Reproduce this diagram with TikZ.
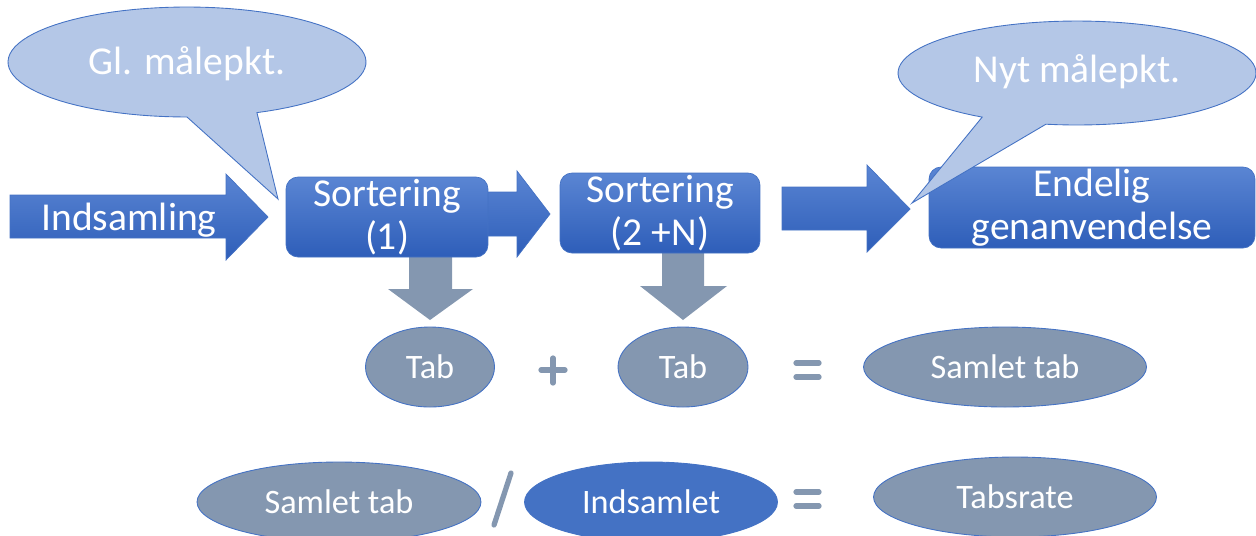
\documentclass[tikz,border=0pt]{standalone}
\usepackage{fontspec}
\setmainfont{Carlito}
\usetikzlibrary{shapes.geometric}
\definecolor{flowtop}{HTML}{5A85D3}
\definecolor{flowbot}{HTML}{2E5EB9}
\definecolor{flowedge}{HTML}{4472C4}
\definecolor{bubble}{HTML}{B4C7E7}
\definecolor{lossgrey}{HTML}{8497B0}
\tikzset{
  flowbox/.style={draw=flowedge, line width=0.4pt, top color=flowtop, bottom color=flowbot,
    rounded corners=0.24cm, text=white, align=center, inner sep=0pt,
    font=\fontsize{22.5}{24.5}\selectfont},
  flowarrow/.style={draw=flowedge, line width=0.4pt, top color=flowtop, bottom color=flowbot},
  lossarrow/.style={fill=lossgrey, draw=none},
  bubbleshape/.style={fill=bubble, draw=flowedge, line width=0.5pt},
  bigtext/.style={text=white, inner sep=0pt, font=\fontsize{22.5}{27}\selectfont},
  lossoval/.style={ellipse, fill=lossgrey, draw=flowedge, line width=0.5pt, text=white,
    inner sep=0pt, minimum height=1.6cm, font=\fontsize{19.5}{21}\selectfont},
  opsign/.style={draw=lossgrey, line width=3pt, line cap=round},
}
\begin{document}
\begin{tikzpicture}[x=0.02cm, y=-0.02cm]
  \useasboundingbox (0,0) rectangle (1256,535);
  % grey arrows down to the losses
  \fill[lossarrow] (409,250) -- (452,250) -- (452,289) -- (473,289) -- (430,320)
    -- (388,289) -- (409,289) -- cycle;
  \fill[lossarrow] (662,248) -- (704,248) -- (704,286) -- (727,286) -- (683,320)
    -- (640,286) -- (662,286) -- cycle;
  % flow arrows
  \draw[flowarrow] (10,195) -- (226,195) -- (226,174) -- (268,217) -- (226,260)
    -- (226,238) -- (10,238) -- cycle;
  \node[bigtext, anchor=base] (indsamling) at (129,230) {Indsamling};
  \draw[flowarrow] (480,192) -- (517,192) -- (517,171) -- (550,214) -- (517,257)
    -- (517,236) -- (480,236) -- cycle;
  \draw[flowarrow] (782,187) -- (867,187) -- (867,165) -- (910,209) -- (867,252)
    -- (867,230) -- (782,230) -- cycle;
  % sorting steps
  \node[flowbox, minimum width=4.04cm, minimum height=1.6cm] (sort1) at (387,217) {Sortering\\(1)};
  \node[flowbox, minimum width=4cm, minimum height=1.6cm] (sort2) at (660,213) {Sortering\\(2 +N)};
  \node[flowbox, minimum width=6.52cm, minimum height=1.62cm] (endelig) at (1092,207.5) {Endelig\\genanvendelse};
  % losses
  \node[lossoval, minimum width=2.58cm] (tab1) at (430,367) {Tab};
  \node[lossoval, minimum width=2.6cm] (tab2) at (683,367) {Tab};
  \node[lossoval, minimum width=5.66cm] (samlet1) at (1005,367) {Samlet tab};
  \node[lossoval, minimum width=5.68cm] (samlet2) at (339,502) {Samlet tab};
  \node[lossoval, fill=flowedge, minimum width=5.06cm] (indsamlet) at (651,502) {Indsamlet};
  \node[lossoval, minimum width=5.66cm] (tabsrate) at (1015,497) {Tabsrate};
  \draw[opsign] (541,370) -- (565,370) (553,358) -- (553,383);
  \draw[opsign] (796,363) -- (819,363) (796,377) -- (819,377);
  \draw[opsign] (796,492) -- (819,492) (796,506) -- (819,506);
  \draw[opsign] (511,473) -- (494,525);
  % measuring points
  \draw[bubbleshape] plot[domain=90:427, samples=90] ({187+179*cos(\x)},{62+55*sin(\x)})
    -- (278,199) -- cycle;
  \node[bigtext] (glmaal) at (187,64) {Gl. målepkt.};
  \draw[bubbleshape] plot[domain=122:460, samples=90] ({1077+179*cos(\x)},{73+52*sin(\x)})
    -- (912,203) -- cycle;
  \node[bigtext] (nytmaal) at (1077,72) {Nyt målepkt.};
\end{tikzpicture}
\end{document}
